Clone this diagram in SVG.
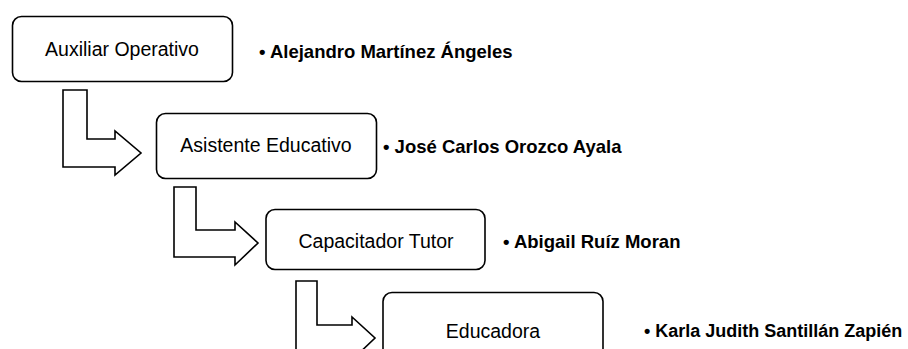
<svg xmlns="http://www.w3.org/2000/svg" width="908" height="349" viewBox="0 0 908 349">
<style>
.box{fill:#fff;stroke:#000;stroke-width:1.6}
.arr{fill:#fff;stroke:#000;stroke-width:1.6;stroke-linejoin:miter}
.lbl{font-family:"Liberation Sans",Arial,sans-serif;font-size:19.5px;fill:#000;text-anchor:middle}
.name{font-family:"Liberation Sans",Arial,sans-serif;font-size:18.5px;font-weight:bold;fill:#000}
</style>
<rect width="908" height="349" fill="#fff"/>
<g id="connectors">
<polygon class="arr" points="63,90 87,90 87,139 115,139 115,131 141,153 115,175 115,167 63,167"/>
<polygon class="arr" points="174,187 196,187 196,230 235,230 235,222 258,243 235,265 235,257 174,257"/>
<polygon class="arr" points="296,281 317,281 317,325 352,325 352,317 375,338 352,360 352,352 296,352"/>
</g>
<g id="n1">
<rect class="box" x="12.5" y="16.5" width="220" height="65" rx="9"/>
<text class="lbl" x="122" y="56">Auxiliar Operativo</text>
</g>
<g id="n2">
<rect class="box" x="156.5" y="113.5" width="220" height="65" rx="9"/>
<text class="lbl" x="266" y="152">Asistente Educativo</text>
</g>
<g id="n3">
<rect class="box" x="266" y="209.5" width="219" height="60" rx="9"/>
<text class="lbl" x="376" y="248">Capacitador Tutor</text>
</g>
<g id="n4">
<rect class="box" x="383" y="292.5" width="220" height="65" rx="9"/>
<text class="lbl" x="493" y="338">Educadora</text>
</g>
<g id="names">
<text class="name" x="259" y="58">• Alejandro Martínez Ángeles</text>
<text class="name" x="383" y="153">• José Carlos Orozco Ayala</text>
<text class="name" x="503" y="248">• Abigail Ruíz Moran</text>
<text class="name" x="644" y="337" style="font-size:18px">• Karla Judith Santillán Zapién</text>
</g>
</svg>
